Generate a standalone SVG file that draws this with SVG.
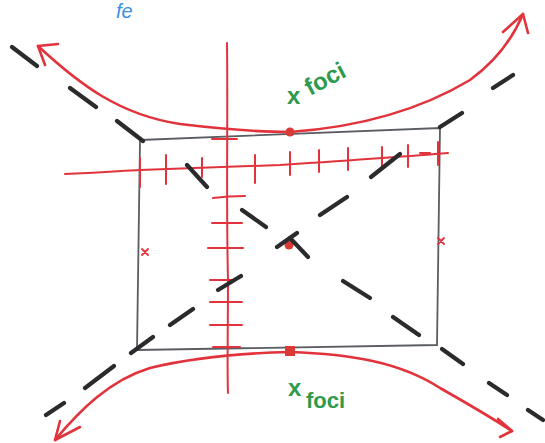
<svg xmlns="http://www.w3.org/2000/svg" width="545" height="443" viewBox="0 0 545 443">
<defs>
<style>
.red{fill:none;stroke:#e2333c;stroke-linecap:round;stroke-linejoin:round}
.axis{stroke-width:2}
.curve{stroke-width:2.6}
.dash{stroke:#2b2b2e;stroke-width:4.2;stroke-linecap:round;fill:none}
.box{fill:none;stroke:#5a5d62;stroke-width:1.8}
.green{fill:#2f9a4c;font-family:"Liberation Sans",Arial,sans-serif;font-weight:bold}
</style>
</defs>
<rect width="545" height="443" fill="#fff"/>
<text x="116" y="18" font-family="Liberation Sans,Arial,sans-serif" font-size="20" font-style="italic" fill="#3a8fe0">fe</text>
<g id="box"><path class="box" d="M140,140 L440,128 L437,345 L137,350 Z"/></g>
<g id="x-axis">
<path class="red axis" d="M65,174 C95,173 120,171 140,170 C200,168 240,166 280,165 C340,161 400,157 448,153"/>
<path class="red axis" d="M140,158V187M166,155V184M202,158V177M255,155V183M290,152V175M319,150V172M348,148V170M382,147V167M408,145V167M438,142V165M420,153H430"/>
</g>
<g id="y-axis">
<path class="red axis" d="M227,43 C228,120 226,200 228,280 C228,330 227,370 228,393"/>
<path class="red axis" d="M212,139H237M213,198Q228,196 245,196M212,223H242M208,248H243M210,280H235M210,302H242M210,325H242M213,347H240"/>
</g>
<g id="hyperbola-top">
<path class="red curve" d="M38,46 C80,85 120,115 180,124 C230,130 260,132 290,132 C360,127 420,110 470,80 C495,62 512,40 523,14"/>
<path class="red curve" d="M58,44 L38,46 L45,65 M503,32 L523,14 L528,33"/>
</g>
<g id="hyperbola-bottom">
<path class="red curve" d="M55,440 C80,410 110,380 150,368 C200,356 250,353 290,352 C350,354 400,362 440,388 C470,405 495,420 512,431"/>
<path class="red curve" d="M80,427 L55,440 L60,421 M498,419 L512,431 L500,437"/>
</g>
<g id="points">
<circle cx="290" cy="132" r="4.5" fill="#d93a35"/>
<rect x="285" y="346" width="10" height="10" fill="#d93a35"/>
<circle cx="289" cy="245" r="4.5" fill="#d93a35"/>
<path class="red" stroke-width="1.8" d="M142,249L148,255M148,249L142,255M438,238L444,244M444,238L438,244"/>
</g>
<g id="labels">
<text class="green" x="287" y="104" font-size="24">x</text>
<text class="green" transform="translate(310,96) rotate(-28)" font-size="24">foci</text>
<text class="green" x="288" y="396" font-size="24">x</text>
<text class="green" x="306" y="408" font-size="22">foci</text>
</g>
<g id="asymptotes">
<path class="dash" d="M12,47L37,66M70,88L96,107M117,121L143,141M187,165L207,187M242,210L266,227M290,238L308,257M343,281L370,298M393,317L419,335M442,349L463,364M489,383L507,395M528,410L543,420"/>
<path class="dash" d="M46,415L64,403M85,388L114,366M131,353L153,337M170,325L193,309M218,290L241,276M277,247L297,233M320,215L347,197M371,177L400,154M440,127L462,113M493,88L513,75"/>
</g>
</svg>
